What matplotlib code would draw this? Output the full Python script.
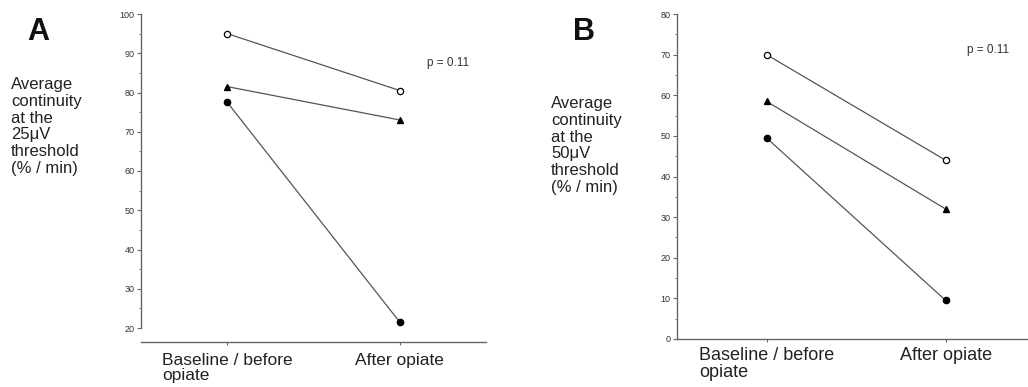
import matplotlib.pyplot as plt
from matplotlib.ticker import MultipleLocator

plt.rcParams["font.family"] = ["Liberation Sans", "DejaVu Sans"]

W, H = 1028, 387

conditions = ["Baseline / before\nopiate", "After opiate"]

# panel A: 25 uV threshold
a_open = [95.0, 80.5]
a_triangle = [81.5, 73.0]
a_filled = [77.5, 21.5]

# panel B: 50 uV threshold
b_open = [70.0, 44.0]
b_triangle = [58.5, 32.0]
b_filled = [49.5, 9.5]

p_text = "p = 0.11"
ylab_a = "Average\ncontinuity\nat the\n25\u03bcV\nthreshold\n(% / min)"
ylab_b = "Average\ncontinuity\nat the\n50\u03bcV\nthreshold\n(% / min)"

LINE = "#555555"
AXIS = "#666666"
TXT = "#333333"


def px_axes(fig, x0, y0, x1, y1):
    return fig.add_axes([x0 / W, 1 - y1 / H, (x1 - x0) / W, (y1 - y0) / H])


def draw_series(ax, opn, tri, fil):
    x = range(len(conditions))
    ax.plot(x, opn, "-", color=LINE, lw=0.9, marker="o", ms=4.5,
            mfc="white", mec="black", mew=0.9, zorder=3)
    ax.plot(x, tri, "-", color=LINE, lw=0.9, marker="^", ms=5,
            mfc="black", mec="black", zorder=3)
    ax.plot(x, fil, "-", color=LINE, lw=0.9, marker="o", ms=4.5,
            mfc="black", mec="black", zorder=3)


def style_axes(ax, ymin, ymax, xsize, xpad):
    ax.set_ylim(ymin, ymax)
    ax.yaxis.set_major_locator(MultipleLocator(10))
    ax.yaxis.set_minor_locator(MultipleLocator(5))
    ax.spines["top"].set_visible(False)
    ax.spines["right"].set_visible(False)
    for s in ("left", "bottom"):
        ax.spines[s].set_color(AXIS)
        ax.spines[s].set_linewidth(1.0)
    ax.tick_params(axis="y", which="major", length=3, width=0.8, color=AXIS,
                   labelsize=6.5, labelcolor=TXT, pad=1.5)
    ax.tick_params(axis="y", which="minor", length=1.5, width=0.6, color=AXIS)
    ax.set_xticks(range(len(conditions)))
    ax.set_xticklabels(conditions, fontsize=xsize, color="#222222")
    for lab in ax.get_xticklabels():
        lab.set_multialignment("left")
        lab.set_linespacing(1.0)
    ax.tick_params(axis="x", length=2, width=0.8, color=AXIS, pad=xpad)


fig = plt.figure(figsize=(W / 100, H / 100), dpi=100)

# panel A (x axis sits a little below the end of the y axis)
ax1 = px_axes(fig, 141, 14, 486, 328)
ax1.spines["bottom"].set_position(("outward", 10))
draw_series(ax1, a_open, a_triangle, a_filled)
ax1.set_xlim(-0.5, 1.5)
style_axes(ax1, 20, 100, 12.5, 6)

# panel B
ax2 = px_axes(fig, 677, 14, 1028, 339)
draw_series(ax2, b_open, b_triangle, b_filled)
ax2.set_xlim(-0.5, 1.46)
style_axes(ax2, 0, 80, 13, 4)

fig.text(27 / W, 1 - 17 / H, "A", fontsize=22, fontweight="bold",
         va="top", ha="left", color="#111111")
fig.text(573 / W, 1 - 17 / H, "B", fontsize=22, fontweight="bold",
         va="top", ha="left", color="#111111")

fig.text(11 / W, 1 - 77 / H, ylab_a, fontsize=12, va="top", ha="left",
         color="#222222", linespacing=1.15)
fig.text(551 / W, 1 - 96 / H, ylab_b, fontsize=12, va="top", ha="left",
         color="#222222", linespacing=1.15)

fig.text(427 / W, 1 - 63 / H, p_text, fontsize=8.5, va="center", ha="left",
         color=TXT)
fig.text(967 / W, 1 - 50 / H, p_text, fontsize=8.5, va="center", ha="left",
         color=TXT)

fig.savefig("out.png", dpi=100)
